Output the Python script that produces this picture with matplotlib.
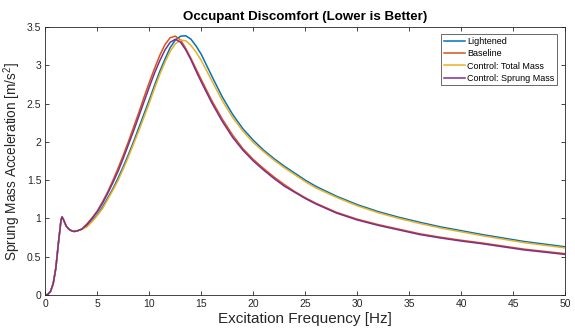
import numpy as np
import matplotlib
matplotlib.use("Agg")
import matplotlib.pyplot as plt

plt.rcParams['font.family'] = ['Liberation Sans', 'DejaVu Sans']
plt.rcParams['mathtext.default'] = 'regular'

# low-frequency part, identical for all four cases
freq_low = [0, 0.25, 0.5, 0.75, 1.0, 1.25, 1.5, 1.6, 1.75, 2.0, 2.25, 2.5, 2.75, 3.0, 3.5]
accel_low = [0, 0.01, 0.05, 0.15, 0.35, 0.68, 0.98, 1.02, 0.98, 0.90, 0.86, 0.84, 0.83, 0.835, 0.86]

freq = [4, 4.5, 5, 5.5, 6, 6.5, 7, 7.5, 8, 8.5, 9, 9.5, 10, 10.5, 11, 11.5, 12, 12.5,
        13, 13.5, 14, 14.5, 15, 16, 17, 18, 19, 20, 21, 22, 23, 24, 25, 26, 28, 30,
        32, 34, 36, 38, 40, 42, 44, 46, 48, 50]

lightened = [0.90, 0.97, 1.05, 1.15, 1.27, 1.39, 1.53, 1.68, 1.84, 2.01, 2.19, 2.37, 2.55, 2.74,
             2.92, 3.08, 3.23, 3.33, 3.38, 3.385, 3.34, 3.25, 3.14, 2.86, 2.59, 2.36, 2.17, 2.02,
             1.89, 1.78, 1.68, 1.59, 1.50, 1.42, 1.29, 1.18, 1.09, 1.015, 0.95, 0.89, 0.84, 0.79,
             0.745, 0.70, 0.665, 0.63]
baseline = [0.93, 1.01, 1.10, 1.22, 1.35, 1.50, 1.66, 1.83, 2.01, 2.20, 2.39, 2.59, 2.78, 2.96,
            3.13, 3.27, 3.36, 3.38, 3.33, 3.22, 3.09, 2.95, 2.81, 2.54, 2.30, 2.09, 1.91, 1.77,
            1.65, 1.54, 1.44, 1.35, 1.27, 1.20, 1.08, 0.99, 0.92, 0.86, 0.80, 0.755, 0.715, 0.68,
            0.64, 0.60, 0.57, 0.54]
total_mass = [0.89, 0.96, 1.04, 1.13, 1.25, 1.37, 1.50, 1.65, 1.81, 1.98, 2.15, 2.33, 2.51, 2.70,
              2.88, 3.04, 3.18, 3.28, 3.33, 3.32, 3.26, 3.17, 3.06, 2.80, 2.54, 2.32, 2.14, 1.99,
              1.87, 1.76, 1.66, 1.57, 1.48, 1.40, 1.275, 1.165, 1.075, 1.0, 0.935, 0.875, 0.825,
              0.775, 0.73, 0.685, 0.65, 0.615]
sprung_mass = [0.92, 1.00, 1.09, 1.20, 1.33, 1.47, 1.62, 1.79, 1.97, 2.15, 2.34, 2.53, 2.72, 2.90,
               3.06, 3.20, 3.30, 3.34, 3.30, 3.20, 3.07, 2.92, 2.78, 2.51, 2.27, 2.06, 1.89, 1.75,
               1.63, 1.52, 1.42, 1.34, 1.26, 1.19, 1.07, 0.98, 0.91, 0.85, 0.79, 0.745, 0.705, 0.67,
               0.63, 0.59, 0.56, 0.53]

labels = ['Lightened', 'Baseline', 'Control: Total Mass', 'Control: Sprung Mass']
colors = ['#0072BD', '#D95319', '#EDB120', '#7E2F8E']

fig = plt.figure(figsize=(5.75, 3.33), dpi=100)
ax = fig.add_axes([0.079, 0.114, 0.904, 0.805])

for series, lab, col in zip([lightened, baseline, total_mass, sprung_mass], labels, colors):
    ax.plot(freq_low + freq, accel_low + series, color=col, lw=1.1, label=lab)

ax.set_xlim(0, 50)
ax.set_ylim(0, 3.5)
ax.set_xticks(np.arange(0, 51, 5))
ax.set_yticks(np.arange(0, 3.51, 0.5))
ax.set_yticklabels(['0', '0.5', '1', '1.5', '2', '2.5', '3', '3.5'])

axis_col = '#262626'
for s in ax.spines.values():
    s.set_color(axis_col)
    s.set_linewidth(0.6)
ax.tick_params(direction='in', top=True, right=True, length=3, width=0.6,
               colors=axis_col, labelsize=7.5, pad=3)

ax.set_xlabel('Excitation Frequency [Hz]', fontsize=11, color=axis_col, labelpad=2)
ax.set_ylabel('Sprung Mass Acceleration [m/s$^2$]', fontsize=9.8, color=axis_col, labelpad=3)
ax.set_title('Occupant Discomfort (Lower is Better)', fontsize=9.6, fontweight='bold', pad=5)

leg = ax.legend(loc='upper right', bbox_to_anchor=(0.985, 0.972), fontsize=6.5,
                frameon=True, fancybox=False, handlelength=2.3, handletextpad=0.3,
                labelspacing=0.35, borderpad=0.3, borderaxespad=0)
leg.get_frame().set_edgecolor(axis_col)
leg.get_frame().set_linewidth(0.6)

fig.savefig('out.png', dpi=100)
